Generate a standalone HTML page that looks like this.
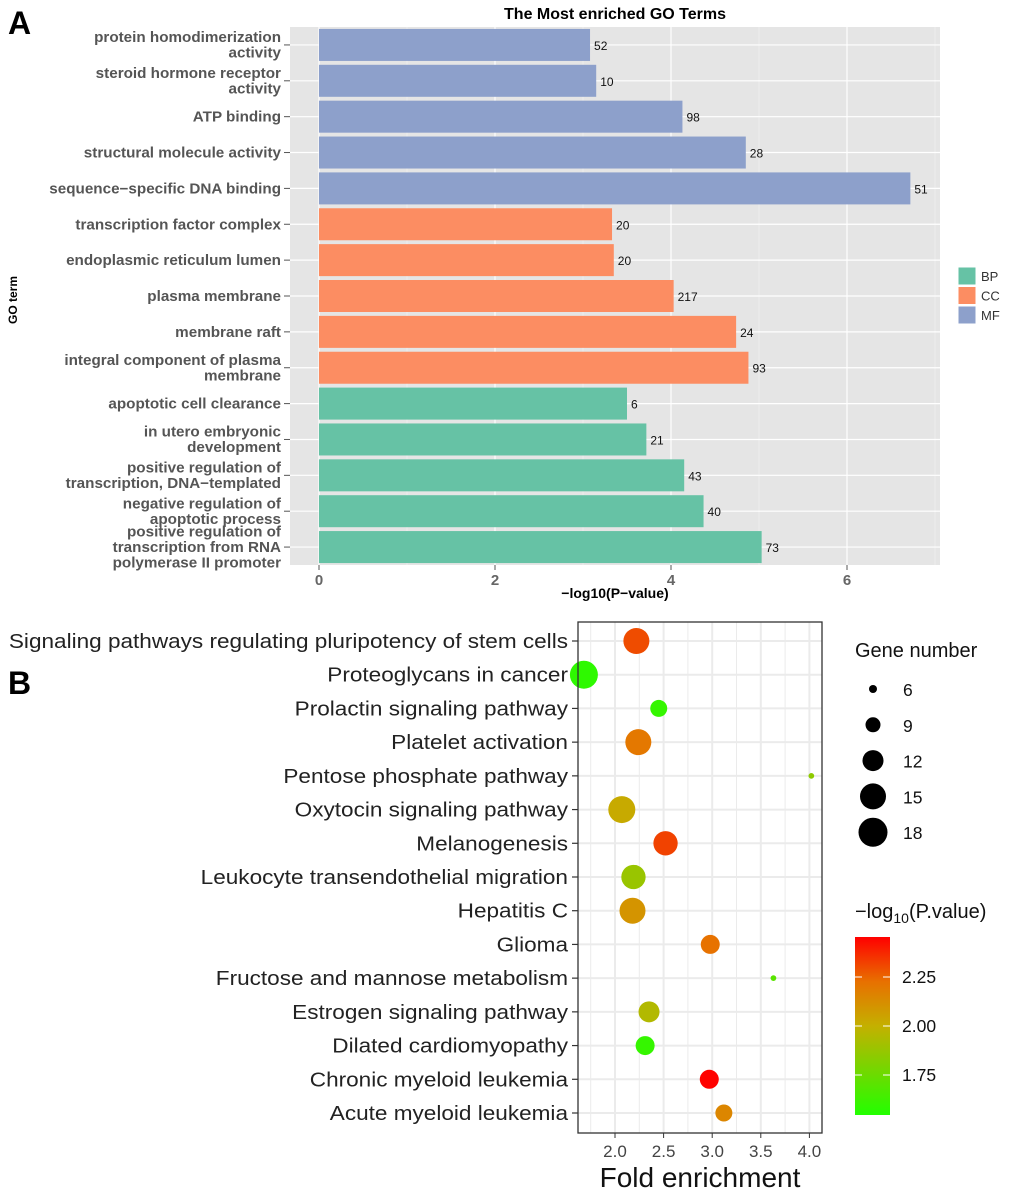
<!DOCTYPE html>
<html><head><meta charset="utf-8"><style>
body{margin:0;background:#fff;width:1020px;height:1196px;overflow:hidden}
svg{display:block;font-family:"Liberation Sans",Arial,sans-serif}
</style></head><body>
<svg id="s" width="1020" height="1196" xmlns="http://www.w3.org/2000/svg">
<text x="8" y="34" font-size="32" font-weight="bold">A</text>
<text x="8" y="694" font-size="32" font-weight="bold">B</text>
<text x="615" y="19" font-size="16" font-weight="bold" text-anchor="middle">The Most enriched GO Terms</text>
<text transform="translate(17,300) rotate(-90)" font-size="12" font-weight="bold" text-anchor="middle">GO term</text>
<text x="615" y="598" font-size="14" font-weight="bold" text-anchor="middle">−log10(P−value)</text>
<text x="700" y="1187" font-size="28" text-anchor="middle" fill="#111">Fold enrichment</text>
<text x="855" y="657" font-size="20" fill="#111">Gene number</text>
<text x="855" y="918" font-size="20" fill="#111">−log<tspan font-size="14" dy="5">10</tspan><tspan dy="-5">(P.value)</tspan></text>
<defs><linearGradient id="cg" x1="0" y1="1" x2="0" y2="0"><stop offset="0" stop-color="#22ff00"/><stop offset="0.5" stop-color="#c4b000"/><stop offset="0.75" stop-color="#e87000"/><stop offset="1" stop-color="#ff0000"/></linearGradient></defs>
</svg>
<script>
// ---- Panel A data ----
const goTerms=["protein homodimerization|activity","steroid hormone receptor|activity","ATP binding","structural molecule activity","sequence−specific DNA binding","transcription factor complex","endoplasmic reticulum lumen","plasma membrane","membrane raft","integral component of plasma|membrane","apoptotic cell clearance","in utero embryonic|development","positive regulation of|transcription, DNA−templated","negative regulation of|apoptotic process","positive regulation of|transcription from RNA|polymerase II promoter"];
const goCats=["MF","MF","MF","MF","MF","CC","CC","CC","CC","CC","BP","BP","BP","BP","BP"];
const goValues=[3.08,3.15,4.13,4.85,6.72,3.33,3.35,4.03,4.74,4.88,3.5,3.72,4.15,4.37,5.03];
const goCounts=[52,10,98,28,51,20,20,217,24,93,6,21,43,40,73];
const goTicks=[0,2,4,6];
const goLegend=["BP","CC","MF"];
// ---- Panel B data ----
const keggTerms=["Signaling pathways regulating pluripotency of stem cells","Proteoglycans in cancer","Prolactin signaling pathway","Platelet activation","Pentose phosphate pathway","Oxytocin signaling pathway","Melanogenesis","Leukocyte transendothelial migration","Hepatitis C","Glioma","Fructose and mannose metabolism","Estrogen signaling pathway","Dilated cardiomyopathy","Chronic myeloid leukemia","Acute myeloid leukemia"];
const keggFold=[2.22,1.68,2.45,2.24,4.02,2.07,2.52,2.19,2.18,2.98,3.63,2.35,2.31,2.97,3.12];
const keggGenes=[15,17,10,15,5,16,14,14,15,11,5,12,11,11,10];
const keggLogP=[2.3,1.58,1.6,2.2,1.85,2.02,2.32,1.88,2.1,2.22,1.7,1.95,1.6,2.45,2.15];
const keggTicks=[2.0,2.5,3.0,3.5,4.0];
const sizeLegend=[6,9,12,15,18];
const colorTicks=[1.75,2.00,2.25];

const S=document.getElementById('s'),NS="http://www.w3.org/2000/svg";
function mk(t,a,p){const e=document.createElementNS(NS,t);for(const k in a)e.setAttribute(k,a[k]);(p||S).appendChild(e);return e;}
function stretch(t,f){const w=t.getComputedTextLength();if(w>0){t.setAttribute('textLength',(w*f).toFixed(1));t.setAttribute('lengthAdjust','spacingAndGlyphs');}}
const catColor={MF:"#8da0cb",CC:"#fc8d62",BP:"#66c2a5"};
const ax0=319,axU=88,pTop=27,pBot=565,pL=290,pR=940;
const gx=v=>ax0+v*axU;
const rowStep=(pBot-pTop)/goTerms.length;
const gy=i=>pTop+rowStep*(i+0.5);
let bg=mk('rect',{x:pL,y:pTop,width:pR-pL,height:pBot-pTop,fill:"#e5e5e5"});

for(let v=1;v<=7;v+=2){let l=mk('line',{x1:gx(v),x2:gx(v),y1:pTop,y2:pBot,stroke:"#f2f2f2","stroke-width":0.6});}
goTicks.forEach(v=>{let l=mk('line',{x1:gx(v),x2:gx(v),y1:pTop,y2:pBot,stroke:"#fff","stroke-width":1.2});
 let tk=mk('line',{x1:gx(v),x2:gx(v),y1:pBot,y2:pBot+5,stroke:"#555"});
 let t=mk('text',{x:gx(v),y:pBot+20,"font-size":15,"font-weight":"bold",fill:"#666","text-anchor":"middle"});t.textContent=v;});
goTerms.forEach((term,i)=>{const y=gy(i);
 let gl=mk('line',{x1:pL,x2:pR,y1:y,y2:y,stroke:"#fff","stroke-width":1.2});
 let b=mk('rect',{x:gx(0),y:y-16,width:gx(goValues[i])-gx(0),height:32,fill:catColor[goCats[i]]});
 let c=mk('text',{x:gx(goValues[i])+4,y:y+5,"font-size":12,fill:"#111"});c.textContent=goCounts[i];
 let tk=mk('line',{x1:pL-6,x2:pL,y1:y,y2:y,stroke:"#555"});
 const lines=term.split('|');const lh=15.5;
 lines.forEach((ln,j)=>{let t=mk('text',{x:281,y:y+5+(j-(lines.length-1)/2)*lh,"font-size":14.5,"font-weight":"bold",fill:"#555","text-anchor":"end"});t.textContent=ln;stretch(t,1.05);});});
goLegend.forEach((k,i)=>{const y=267+i*19.5;
 let r=mk('rect',{x:958,y:y,width:18,height:18,fill:catColor[k],stroke:"#fff"});
 let t=mk('text',{x:981,y:y+14,"font-size":13,fill:"#333"});t.textContent=k;});

// Panel B
const bL=578,bR=822,bT=622,bB=1133,bx0=615,bxU=97.2;
const kx=v=>bx0+(v-2)*bxU;
const kStep=(1113-641)/(keggTerms.length-1);
const ky=i=>641+i*kStep;
const szN=[5,6,9,12,15,18],szD=[5.7,8,15,21,26,29];
function diam(n){for(let i=0;i<szN.length-1;i++){if(n<=szN[i+1]||i==szN.length-2){return szD[i]+(n-szN[i])*(szD[i+1]-szD[i])/(szN[i+1]-szN[i]);}}}
const cLo=1.546,cHi=2.454;
function lerp(a,b,t){return a.map((v,i)=>Math.round(v+(b[i]-v)*t));}
function pcol(p){let t=Math.max(0,Math.min(1,(p-cLo)/(cHi-cLo)));const st=[[0,[34,255,0]],[0.5,[196,176,0]],[0.75,[232,112,0]],[1,[255,0,0]]];for(let i=0;i<st.length-1;i++){if(t<=st[i+1][0]){return `rgb(${lerp(st[i][1],st[i+1][1],(t-st[i][0])/(st[i+1][0]-st[i][0]))})`;}}return "rgb(255,0,0)";}
for(let v=1.75;v<=4.01;v+=0.25){const major=Math.abs(v*2-Math.round(v*2))<1e-6;let l=mk('line',{x1:kx(v),x2:kx(v),y1:bT,y2:bB,stroke:"#ebebeb","stroke-width":major?2:1});}
keggTerms.forEach((term,i)=>{const y=ky(i);
 let l=mk('line',{x1:bL,x2:bR,y1:y,y2:y,stroke:"#ebebeb","stroke-width":2});
 let tk=mk('line',{x1:bL-6,x2:bL,y1:y,y2:y,stroke:"#333","stroke-width":1.2});
 let t=mk('text',{x:568,y:y+7,"font-size":20.5,fill:"#222","text-anchor":"end"});t.textContent=term;stretch(t,1.1);});
keggTerms.forEach((term,i)=>{let c=mk('circle',{cx:kx(keggFold[i]),cy:ky(i),r:diam(keggGenes[i])/2,fill:pcol(keggLogP[i])});});
let fr=mk('rect',{x:bL,y:bT,width:bR-bL,height:bB-bT,fill:"none",stroke:"#333","stroke-width":1.3});
keggTicks.forEach(v=>{let tk=mk('line',{x1:kx(v),x2:kx(v),y1:bB,y2:bB+5,stroke:"#333"});
 let t=mk('text',{x:kx(v),y:bB+24,"font-size":17,fill:"#444","text-anchor":"middle"});t.textContent=v.toFixed(1);});
sizeLegend.forEach((n,i)=>{const y=689+i*35.8;
 let c=mk('circle',{cx:873,cy:y,r:diam(n)/2,fill:"#000"});
 let t=mk('text',{x:903,y:y+7,"font-size":17.5,fill:"#111"});t.textContent=n;});
const cbT=937,cbB=1115,cy=v=>cbB-(v-cLo)/(cHi-cLo)*(cbB-cbT);
let cb=mk('rect',{x:855,y:cbT,width:35,height:cbB-cbT,fill:"url(#cg)"});
colorTicks.forEach(v=>{const y=cy(v);
 mk('line',{x1:855,x2:862,y1:y,y2:y,stroke:"#fff"});mk('line',{x1:883,x2:890,y1:y,y2:y,stroke:"#fff"});
 let t=mk('text',{x:902,y:y+6,"font-size":17.5,fill:"#111"});t.textContent=v.toFixed(2);});
</script>
</body></html>
